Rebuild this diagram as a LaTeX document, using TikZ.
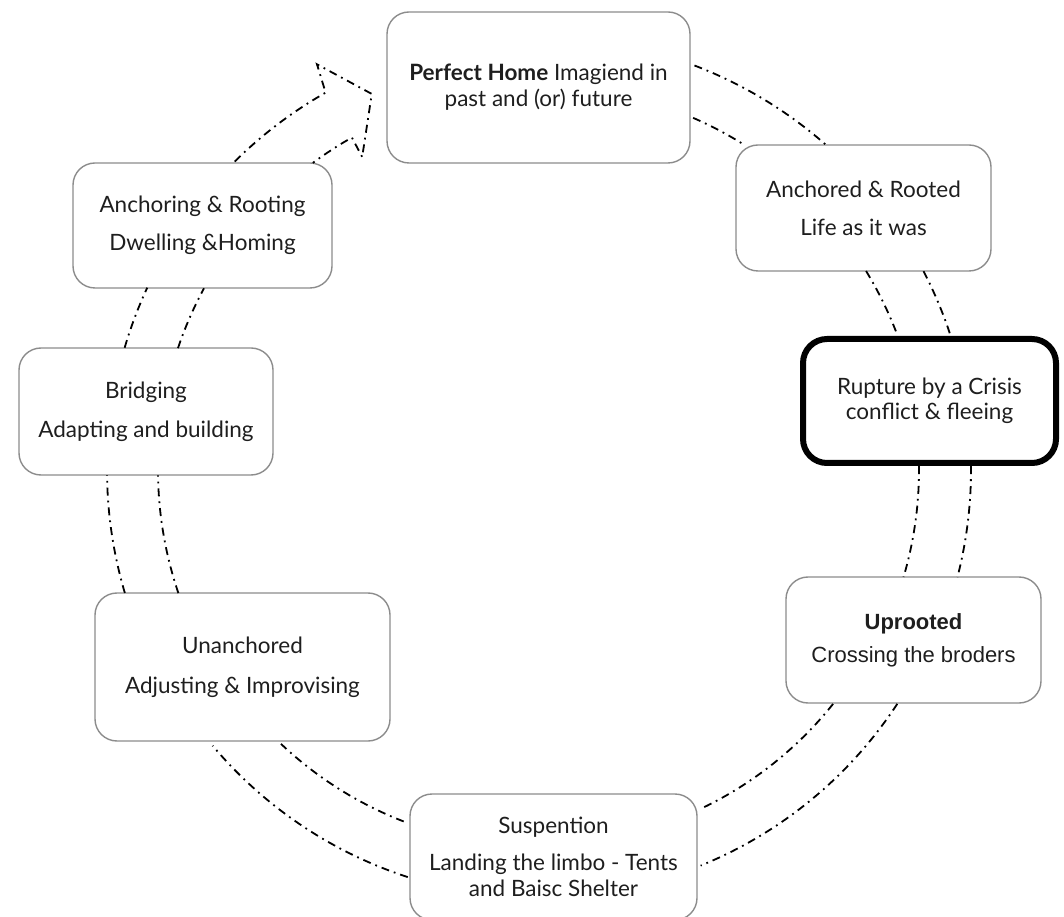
\documentclass[tikz,border=0pt]{standalone}
\usepackage{fontspec}
\setmainfont{Lato}
\newfontfamily\arialfont{Liberation Sans}
\usetikzlibrary{calc}
\definecolor{boxgray}{HTML}{8C8C8C}
\definecolor{textdark}{HTML}{1E1E1E}
\begin{document}
\begin{tikzpicture}[x=1pt,y=1pt,
  box/.style={draw=boxgray, line width=1.4pt, rounded corners=22pt, align=center,
    text=textdark, font=\fontsize{22.5}{27}\selectfont, inner sep=0pt},
  flow/.style={line width=1.8pt, dash pattern=on 8pt off 5pt on 1.8pt off 5pt, line join=miter}]
\useasboundingbox (0,0) rectangle (1064,916);
\coordinate (c) at (540,446);

% boxes
\node[box, minimum width=303, minimum height=151] (perfect) at (538.5,828.5)
  {\textbf{Perfect Home} Imagiend in\\[-1pt] past and (or) future};
\node[box, minimum width=255, minimum height=126] (anchored) at (863.5,708)
  {Anchored \& Rooted\\[11pt] Life as it was};
\node[box, draw=black, line width=6pt, rounded corners=24pt, minimum width=253, minimum height=124] (rupture) at (929.5,515)
  {Rupture by a Crisis\\[-2pt] conflict \& fleeing};
\node[box, minimum width=255, minimum height=126, font=\arialfont\fontsize{22}{26}\selectfont] (uprooted) at (913.5,276)
  {\textbf{Uprooted}\\[7pt] Crossing the broders};
\node[box, minimum width=287, minimum height=126] (suspention) at (553.5,59)
  {Suspention\\[10pt] Landing the limbo - Tents\\[-1pt] and Baisc Shelter};
\node[box, minimum width=295, minimum height=148] (unanchored) at (242.5,249)
  {Unanchored\\[13pt] Adjusting \& Improvising};
\node[box, minimum width=254, minimum height=127] (bridging) at (146,504.5)
  {Bridging\\[12pt] Adapting and building};
\node[box, minimum width=259, minimum height=125] (anchoring) at (202.5,690.5)
  {Anchoring \& Rooting\\[11pt] Dwelling \&Homing};

% connectors: perfect -> anchored
\draw[flow] (c) ++(69.1:433) arc[start angle=69.1, end angle=48.7, radius=433];
\draw[flow] (c) ++(66.5:384) arc[start angle=66.5, end angle=58.3, radius=384];
% anchored -> rupture
\draw[flow] (c) ++(27.4:432) arc[start angle=27.4, end angle=18.1, radius=432];
\draw[flow] (c) ++(31.4:382) arc[start angle=31.4, end angle=20.6, radius=382];
% rupture -> uprooted
\draw[flow] (c) ++(0.5:431) arc[start angle=0.5, end angle=-14.4, radius=431];
\draw[flow] (c) ++(0.6:379) arc[start angle=0.6, end angle=-16.4, radius=379];
% uprooted -> suspention
\draw[flow] (c) ++(-33.2:427) arc[start angle=-33.2, end angle=-67.9, radius=427];
\draw[flow] (c) ++(-38.6:375) arc[start angle=-38.6, end angle=-64.4, radius=375];
% suspention -> unanchored
\draw[flow] (c) ++(252.0:428) arc[start angle=252.0, end angle=220.1, radius=428];
\draw[flow] (c) ++(248.8:377) arc[start angle=248.8, end angle=226.6, radius=377];
% unanchored -> bridging
\draw[flow] (c) ++(196.5:433) arc[start angle=196.5, end angle=180.7, radius=433];
\draw[flow] (c) ++(198.8:382) arc[start angle=198.8, end angle=180.8, radius=382];
% bridging -> anchoring
\draw[flow] (c) ++(163.6:433) arc[start angle=163.6, end angle=155.1, radius=433];
\draw[flow] (c) ++(161.4:382) arc[start angle=161.4, end angle=151.6, radius=382];
% anchoring -> perfect (block arrow)
\coordinate (b1) at ($(c)+(118.8:463)$);
\coordinate (tip) at ($(c)+(114.1:412)$);
\coordinate (b2) at ($(c)+(119.6:360)$);
\coordinate (s2) at ($(c)+(119.5:382)$);
\draw[flow] (c) ++(134.7:434) arc[start angle=134.7, end angle=119.6, radius=434]
  -- (b1) -- (tip) -- (b2) -- (s2) arc[start angle=119.5, end angle=126.5, radius=382];
\end{tikzpicture}
\end{document}
